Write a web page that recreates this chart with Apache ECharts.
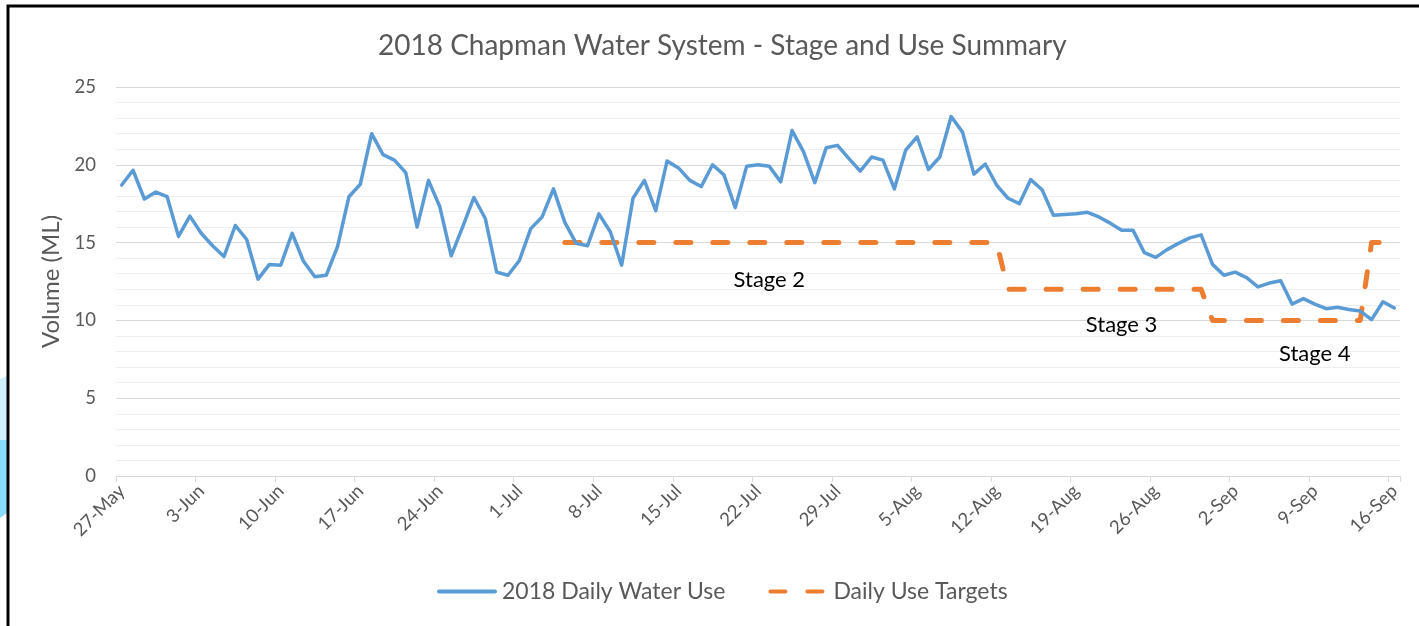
<!DOCTYPE html>
<html>
<head>
<meta charset="utf-8">
<script src="https://cdn.jsdelivr.net/npm/echarts@6/dist/echarts.min.js"></script>
<style>
  html, body { margin: 0; padding: 0; background: #ffffff; }
  #chart { width: 1419px; height: 626px; }
</style>
</head>
<body>
<div id="chart"></div>
<script>
// ---- data ----
const categories = [
  '27-May','28-May','29-May','30-May','31-May',
  '1-Jun','2-Jun','3-Jun','4-Jun','5-Jun','6-Jun','7-Jun','8-Jun','9-Jun','10-Jun',
  '11-Jun','12-Jun','13-Jun','14-Jun','15-Jun','16-Jun','17-Jun','18-Jun','19-Jun','20-Jun',
  '21-Jun','22-Jun','23-Jun','24-Jun','25-Jun','26-Jun','27-Jun','28-Jun','29-Jun','30-Jun',
  '1-Jul','2-Jul','3-Jul','4-Jul','5-Jul','6-Jul','7-Jul','8-Jul','9-Jul','10-Jul',
  '11-Jul','12-Jul','13-Jul','14-Jul','15-Jul','16-Jul','17-Jul','18-Jul','19-Jul','20-Jul',
  '21-Jul','22-Jul','23-Jul','24-Jul','25-Jul','26-Jul','27-Jul','28-Jul','29-Jul','30-Jul','31-Jul',
  '1-Aug','2-Aug','3-Aug','4-Aug','5-Aug','6-Aug','7-Aug','8-Aug','9-Aug','10-Aug',
  '11-Aug','12-Aug','13-Aug','14-Aug','15-Aug','16-Aug','17-Aug','18-Aug','19-Aug','20-Aug',
  '21-Aug','22-Aug','23-Aug','24-Aug','25-Aug','26-Aug','27-Aug','28-Aug','29-Aug','30-Aug','31-Aug',
  '1-Sep','2-Sep','3-Sep','4-Sep','5-Sep','6-Sep','7-Sep','8-Sep','9-Sep','10-Sep',
  '11-Sep','12-Sep','13-Sep','14-Sep','15-Sep','16-Sep'
];

const dailyWaterUse = [
  18.7, 19.65, 17.8, 18.25, 17.95, 15.4, 16.7, 15.6, 14.8, 14.1,
  16.1, 15.2, 12.65, 13.6, 13.55, 15.6, 13.8, 12.8, 12.9, 14.75,
  17.95, 18.75, 22.0, 20.65, 20.3, 19.5, 16.0, 19.0, 17.3, 14.15,
  16.0, 17.9, 16.55, 13.1, 12.9, 13.85, 15.9, 16.65, 18.45, 16.3,
  14.95, 14.8, 16.85, 15.7, 13.55, 17.85, 19.0, 17.05, 20.25, 19.8,
  19.0, 18.6, 20.0, 19.35, 17.25, 19.9, 20.0, 19.9, 18.9, 22.2,
  20.85, 18.85, 21.1, 21.25, 20.4, 19.6, 20.5, 20.3, 18.45, 20.95,
  21.8, 19.7, 20.5, 23.1, 22.1, 19.4, 20.05, 18.7, 17.85, 17.5,
  19.05, 18.4, 16.75, 16.8, 16.85, 16.95, 16.65, 16.25, 15.8, 15.8,
  14.35, 14.05, 14.55, 14.95, 15.3, 15.5, 13.6, 12.9, 13.1, 12.75,
  12.15, 12.4, 12.55, 11.05, 11.4, 11.05, 10.75, 10.85, 10.7, 10.6,
  10.05, 11.2, 10.8
];

const dailyUseTargets = [
  null, null, null, null, null, null, null, null, null, null,
  null, null, null, null, null, null, null, null, null, null,
  null, null, null, null, null, null, null, null, null, null,
  null, null, null, null, null, null, null, null, null, 15,
  15, 15, 15, 15, 15, 15, 15, 15, 15, 15,
  15, 15, 15, 15, 15, 15, 15, 15, 15, 15,
  15, 15, 15, 15, 15, 15, 15, 15, 15, 15,
  15, 15, 15, 15, 15, 15, 15, 15, 12, 12,
  12, 12, 12, 12, 12, 12, 12, 12, 12, 12,
  12, 12, 12, 12, 12, 12, 10, 10, 10, 10,
  10, 10, 10, 10, 10, 10, 10, 10, 10, 10,
  15, 15, 15
];

const stageLabels = ['Stage 2', 'Stage 3', 'Stage 4'];
const stageLabelAt = ['23-Jul', '23-Aug', '9-Sep'];
const stageLabelValue = [12.6, 9.7, 7.85];

const yTicks = [0, 5, 10, 15, 20, 25];

const seriesNames = ['2018 Daily Water Use', 'Daily Use Targets'];
const titleText = '2018 Chapman Water System - Stage and Use Summary';
const yAxisName = 'Volume (ML)';

// ---- chart ----
const FONT = 'Lato';
const chart = echarts.init(document.getElementById('chart'), null, { renderer: 'canvas' });

const option = {
  backgroundColor: '#ffffff',
  animation: false,
  title: {
    text: titleText,
    left: 373,
    top: 27,
    textStyle: { fontFamily: FONT, fontSize: 28, fontWeight: 'normal', color: '#595959' }
  },
  legend: {
    left: 437,
    top: 580,
    padding: 0,
    itemWidth: 56,
    itemHeight: 14,
    itemGap: 43,
    itemStyle: { opacity: 0 },
    lineStyle: { width: 4, cap: 'round' },
    textStyle: { fontFamily: FONT, fontSize: 23, color: '#595959', padding: [0, 0, 0, 2] },
    data: seriesNames
  },
  grid: { left: 116, right: 19, top: 87, bottom: 150, containLabel: false },
  xAxis: {
    type: 'category',
    data: categories,
    boundaryGap: true,
    axisLine: { lineStyle: { color: '#d9d9d9', width: 1 } },
    axisTick: { show: true, interval: 6, length: 6, alignWithLabel: false, lineStyle: { color: '#d9d9d9' } },
    axisLabel: {
      interval: 6,
      rotate: 45,
      margin: 12,
      fontFamily: FONT,
      fontSize: 18.5,
      color: '#595959'
    },
    splitLine: { show: false }
  },
  yAxis: {
    type: 'value',
    min: yTicks[0],
    max: yTicks[yTicks.length - 1],
    interval: 5,
    name: yAxisName,
    nameLocation: 'middle',
    nameGap: 52,
    nameRotate: 90,
    nameTextStyle: { fontFamily: FONT, fontSize: 24, color: '#595959' },
    axisLine: { show: false },
    axisTick: { show: false },
    axisLabel: { margin: 20, fontFamily: FONT, fontSize: 18.5, color: '#595959' },
    splitLine: { show: true, lineStyle: { color: '#d9d9d9', width: 1 } },
    minorTick: { show: false, splitNumber: 5 },
    minorSplitLine: { show: true, lineStyle: { color: '#efefef', width: 1 } }
  },
  series: [
    {
      name: seriesNames[0],
      type: 'line',
      data: dailyWaterUse,
      symbol: 'none',
      smooth: false,
      lineStyle: { color: '#5b9bd5', width: 3.5, cap: 'round', join: 'round' },
      itemStyle: { color: '#5b9bd5' },
      z: 3
    },
    {
      name: seriesNames[1],
      type: 'line',
      data: dailyUseTargets,
      symbol: 'none',
      connectNulls: false,
      lineStyle: { color: '#ed7d31', width: 5, type: [15, 22], cap: 'round', join: 'round' },
      itemStyle: { color: '#ed7d31' },
      z: 2,
      markPoint: {
        symbol: 'circle',
        symbolSize: 0,
        silent: true,
        label: {
          show: true,
          position: 'inside',
          formatter: '{b}',
          fontFamily: FONT,
          fontSize: 22,
          color: '#000000'
        },
        data: stageLabels.map((s, i) => ({ name: s, coord: [stageLabelAt[i], stageLabelValue[i]] }))
      }
    }
  ],
  graphic: [
    {
      type: 'polygon',
      silent: true,
      shape: { points: [[0, 379], [7, 376], [7, 440], [0, 440]] },
      style: { fill: '#cdf0fd' }
    },
    {
      type: 'polygon',
      silent: true,
      shape: { points: [[0, 440], [7, 440], [7, 513], [0, 518]] },
      style: { fill: '#88dbf9' }
    },
    {
      type: 'rect',
      silent: true,
      shape: { x: 8, y: 6, width: 1500, height: 700 },
      style: { fill: 'none', stroke: '#000000', lineWidth: 3 }
    }
  ]
};

chart.setOption(option);
</script>
</body>
</html>
